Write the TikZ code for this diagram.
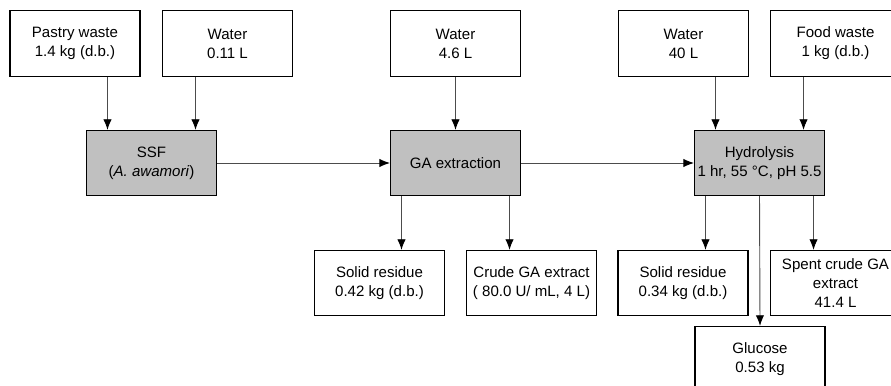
\documentclass[tikz,border=0pt]{standalone}
\usepackage{fontspec}
\setmainfont{Liberation Sans}
\usetikzlibrary{arrows.meta,positioning}
\definecolor{procgray}{RGB}{192,192,192}

\begin{document}
\begin{tikzpicture}[x=0.025cm, y=-0.025cm,
    streambox/.style={rectangle, draw=black, line width=0.8pt, fill=white, align=center, font=\fontsize{10.7}{13.5}\selectfont, minimum width=3.25cm, minimum height=1.63cm, inner sep=1pt},
    procbox/.style={streambox, fill=procgray},
    arrow/.style={-{Latex[length=7.5pt,width=6pt,color=black]}, draw=black!70, line width=0.65pt}]

    \clip (0,0) rectangle (891,386);

    % Feed streams
    \node[streambox] (pastry) at (75,43.5) {Pastry waste\\1.4 kg (d.b.)};
    \node[streambox] (water1) at (227.5,43.5) {Water\\0.11 L};
    \node[streambox] (water2) at (455.5,43.5) {Water\\4.6 L};
    \node[streambox] (water3) at (683.5,43.5) {Water\\40 L};
    \node[streambox] (food) at (835.5,43.5) {Food waste\\1 kg (d.b.)};

    % Process steps
    \node[procbox] (ssf) at (151.5,163) {SSF\\(\textit{A. awamori})};
    \node[procbox] (gaext) at (455.5,163) {GA extraction};
    \node[procbox] (hydro) at (759.5,163) {Hydrolysis\\1 hr, 55 °C, pH 5.5};

    % Products
    \node[streambox] (solid1) at (379.5,283) {Solid residue\\0.42 kg (d.b.)};
    \node[streambox] (crude) at (531.5,283) {Crude GA extract\\( 80.0 U/ mL, 4 L)};
    \node[streambox] (solid2) at (683,283) {Solid residue\\0.34 kg (d.b.)};
    \node[streambox] (spent) at (835.5,283) {Spent crude GA\\extract\\41.4 L};
    \node[streambox] (glucose) at (760,359) {Glucose\\0.53 kg};

    % Arrows
    \draw[arrow] ([xshift=-1.1cm]ssf.north |- pastry.south) -- ([xshift=-1.1cm]ssf.north);
    \draw[arrow] ([xshift=1.1cm]ssf.north |- water1.south) -- ([xshift=1.1cm]ssf.north);
    \draw[arrow] (water2.south) -- (gaext.north);
    \draw[arrow] ([xshift=-1.1cm]hydro.north |- water3.south) -- ([xshift=-1.1cm]hydro.north);
    \draw[arrow] ([xshift=1.1cm]hydro.north |- food.south) -- ([xshift=1.1cm]hydro.north);
    \draw[arrow] (ssf.east) -- (gaext.west);
    \draw[arrow] (gaext.east) -- (hydro.west);
    \draw[arrow] ([xshift=-1.35cm]gaext.south) -- ([xshift=-1.35cm]gaext.south |- solid1.north);
    \draw[arrow] ([xshift=1.35cm]gaext.south) -- ([xshift=1.35cm]gaext.south |- crude.north);
    \draw[arrow] ([xshift=-1.35cm]hydro.south) -- ([xshift=-1.35cm]hydro.south |- solid2.north);
    \draw[arrow] ([xshift=1.35cm]hydro.south) -- ([xshift=1.35cm]hydro.south |- spent.north);
    \draw[arrow] (hydro.south) -- (glucose.north);

\end{tikzpicture}
\end{document}
